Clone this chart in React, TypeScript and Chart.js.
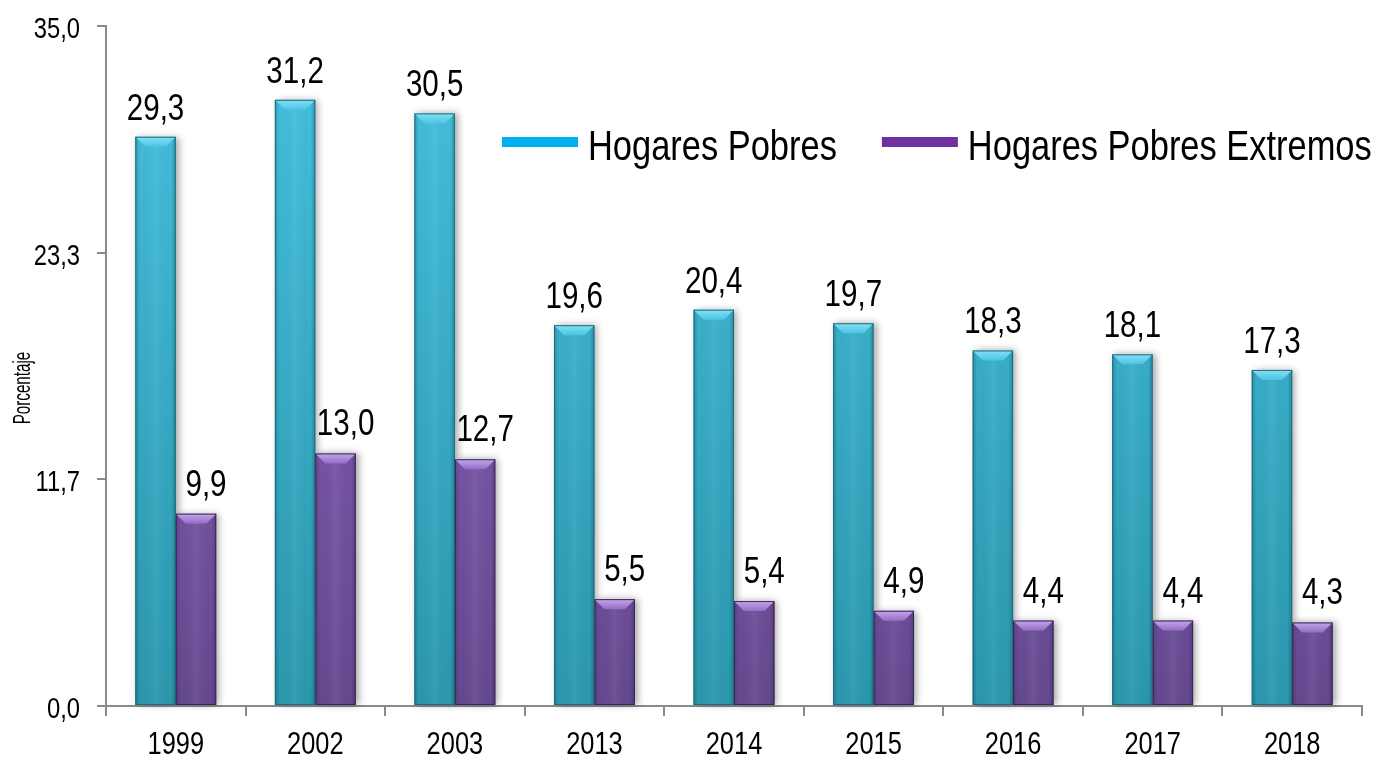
import React, { useEffect, useRef } from "react";
import { Chart, registerables } from "chart.js";

Chart.register(...registerables);

const years = ["1999", "2002", "2003", "2013", "2014", "2015", "2016", "2017", "2018"];
const hogaresPobres = [29.3, 31.2, 30.5, 19.6, 20.4, 19.7, 18.3, 18.1, 17.3];
const hogaresPobresExtremos = [9.9, 13.0, 12.7, 5.5, 5.4, 4.9, 4.4, 4.4, 4.3];
const yTickValues = [0, 35 / 3, 70 / 3, 35];
const yTickLabels = ["0,0", "11,7", "23,3", "35,0"];
const seriesNames = ["Hogares Pobres", "Hogares Pobres Extremos"];
const legendColors = ["#00B0F0", "#7030A0"];
const yTitle = "Porcentaje";

const FONT = "'Liberation Sans', Arial, sans-serif";
const SQUEEZE = 0.82;
const AXIS = "#8A8A8A";

const palettes = [
  { top: "#45C2E1", bottom: "#2A97AD", edge: "#1C6A7C", bevelTop: "#86E0F4", bevelBottom: "#4CC4E2" },
  { top: "#9466C6", bottom: "#64488F", edge: "#3A2758", bevelTop: "#C4A8EA", bevelBottom: "#956CC8" },
];

const fmt = (v: number) => v.toFixed(1).replace(".", ",");

function narrowText(ctx: any, text: string, x: number, y: number, size: number, align: string, sq: number = SQUEEZE) {
  ctx.save();
  ctx.font = `${size}px ${FONT}`;
  ctx.textAlign = align;
  ctx.textBaseline = "alphabetic";
  ctx.fillStyle = "#000";
  ctx.translate(x, y);
  ctx.scale(sq, 1);
  ctx.fillText(text, 0, 0);
  ctx.restore();
}

function narrowWidth(ctx: any, text: string, size: number) {
  ctx.save();
  ctx.font = `${size}px ${FONT}`;
  const w = ctx.measureText(text).width * SQUEEZE;
  ctx.restore();
  return w;
}

const decorPlugin = {
  id: "decor",
  beforeDatasetsDraw(chart: any) {
    const ctx = chart.ctx;
    ctx.save();
    chart.data.datasets.forEach((_: any, di: number) => {
      const meta = chart.getDatasetMeta(di);
      meta.data.forEach((bar: any) => {
        const { x, y, base, width } = bar.getProps(["x", "y", "base", "width"], true);
        ctx.shadowColor = "rgba(0,0,0,0.35)";
        ctx.shadowBlur = 7;
        ctx.shadowOffsetX = 3;
        ctx.shadowOffsetY = 0;
        ctx.fillStyle = "#ffffff";
        ctx.fillRect(x - width / 2, y, width, base - y);
      });
    });
    ctx.restore();
  },
  afterDatasetsDraw(chart: any) {
    const ctx = chart.ctx;
    ctx.save();
    chart.data.datasets.forEach((_: any, di: number) => {
      const meta = chart.getDatasetMeta(di);
      const p = palettes[di];
      meta.data.forEach((bar: any, i: number) => {
        const { x, y, base, width } = bar.getProps(["x", "y", "base", "width"], true);
        const l = x - width / 2;
        const r = x + width / 2;
        const b = Math.min(10, width / 4);
        const hg = ctx.createLinearGradient(l, 0, r, 0);
        hg.addColorStop(0, "rgba(0,0,0,0.18)");
        hg.addColorStop(0.12, "rgba(0,0,0,0.0)");
        hg.addColorStop(0.5, "rgba(255,255,255,0.06)");
        hg.addColorStop(0.88, "rgba(0,0,0,0.0)");
        hg.addColorStop(1, "rgba(0,0,0,0.22)");
        ctx.fillStyle = hg;
        ctx.fillRect(l, y, width, base - y);
        ctx.beginPath();
        ctx.moveTo(l, y);
        ctx.lineTo(r, y);
        ctx.lineTo(r - b, y + b);
        ctx.lineTo(l + b, y + b);
        ctx.closePath();
        const vg = ctx.createLinearGradient(0, y, 0, y + b);
        vg.addColorStop(0, p.bevelTop);
        vg.addColorStop(1, p.bevelBottom);
        ctx.fillStyle = vg;
        ctx.fill();
        ctx.strokeStyle = p.edge;
        ctx.lineWidth = 1;
        ctx.strokeRect(l + 0.5, y + 0.5, width - 1, base - y - 1);
        const v = chart.data.datasets[di].data[i];
        const dx = di === 1 ? 10 : 0;
        const dy = di === 1 ? 18 : 17;
        narrowText(ctx, fmt(v), x + dx, y - dy, 36, "center");
      });
    });
    ctx.restore();
  },
  afterDraw(chart: any) {
    const ctx = chart.ctx;
    const area = chart.chartArea;
    const xs = chart.scales.x;
    const ys = chart.scales.y;
    yTickValues.forEach((v, i) => {
      narrowText(ctx, yTickLabels[i], area.left - 26, ys.getPixelForValue(v) + 12, 29, "right");
    });
    years.forEach((lab, i) => {
      narrowText(ctx, lab, xs.getPixelForValue(i), area.bottom + 48, 31, "center");
    });
    let lx = area.left + 396;
    const ly = area.top + 116;
    seriesNames.forEach((name, i) => {
      ctx.fillStyle = legendColors[i];
      ctx.fillRect(lx, ly - 5, 76, 10);
      narrowText(ctx, name, lx + 86, ly + 18, 42, "left");
      lx += 86 + narrowWidth(ctx, name, 42) + 45;
    });
    ctx.save();
    ctx.translate(22, (area.top + area.bottom) / 2 + 22);
    ctx.rotate(-Math.PI / 2);
    narrowText(ctx, yTitle, 0, 7.5, 23, "center", 0.66);
    ctx.restore();
  },
};

function barGradient(di: number) {
  return (c: any) => {
    const chart = c.chart;
    const area = chart.chartArea;
    if (!area) return palettes[di].top;
    const g = chart.ctx.createLinearGradient(0, area.top, 0, area.bottom);
    g.addColorStop(0, palettes[di].top);
    g.addColorStop(1, palettes[di].bottom);
    return g;
  };
}

export default function App() {
  const ref = useRef<HTMLCanvasElement | null>(null);
  useEffect(() => {
    if (!ref.current) return;
    const chart = new Chart(ref.current, {
      type: "bar",
      data: {
        labels: years,
        datasets: [
          { label: seriesNames[0], data: hogaresPobres, backgroundColor: barGradient(0), borderWidth: 0 },
          { label: seriesNames[1], data: hogaresPobresExtremos, backgroundColor: barGradient(1), borderWidth: 0 },
        ],
      },
      options: {
        responsive: false,
        animation: false,
        layout: { padding: { top: 26, right: 16, left: 0, bottom: 0 } },
        datasets: { bar: { categoryPercentage: 0.58, barPercentage: 1 } },
        plugins: { legend: { display: false }, tooltip: { enabled: false }, title: { display: false } },
        scales: {
          x: {
            grid: { drawOnChartArea: false, drawTicks: true, tickLength: 10, color: AXIS, lineWidth: 2, offset: true },
            border: { display: true, color: AXIS, width: 2 },
            ticks: { display: false },
            afterFit: (s: any) => {
              s.height = 51;
            },
          },
          y: {
            min: 0,
            max: 35,
            afterBuildTicks: (s: any) => {
              s.ticks = yTickValues.map((v) => ({ value: v }));
            },
            grid: { drawOnChartArea: false, drawTicks: true, tickLength: 9, color: AXIS, lineWidth: 2 },
            border: { display: true, color: AXIS, width: 2 },
            ticks: { display: false },
            afterFit: (s: any) => {
              s.width = 106;
            },
          },
        },
      },
      plugins: [decorPlugin],
    } as any);
    return () => chart.destroy();
  }, []);
  return (
    <div style={{ position: "absolute", left: 0, top: 0, width: 1378, height: 757, background: "#fff" }}>
      <canvas ref={ref} width={1378} height={757} style={{ display: "block" }} />
    </div>
  );
}
